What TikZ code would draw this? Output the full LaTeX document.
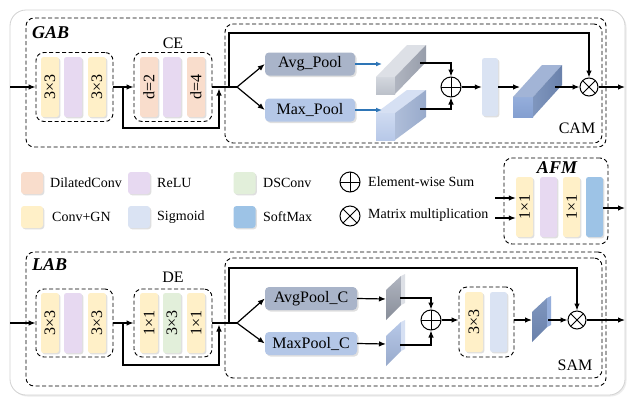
\documentclass[tikz,border=0pt]{standalone}
\usepackage{fontspec}
\setmainfont{Liberation Serif}
\usetikzlibrary{arrows.meta,shadows,calc}

\definecolor{yelc}{HTML}{FFF0C8}
\definecolor{purc}{HTML}{E7D9F1}
\definecolor{peac}{HTML}{F9DDCC}
\definecolor{grnc}{HTML}{E2EFDA}
\definecolor{sigc}{HTML}{DAE3F3}
\definecolor{sofc}{HTML}{9DC3E6}
\definecolor{avgc}{HTML}{A9B4C9}
\definecolor{maxc}{HTML}{B4C7E7}
\definecolor{arrblue}{HTML}{2E75B6}
% faces of the 3-D blocks
\definecolor{gfrontA}{HTML}{D3D7DE}
\definecolor{gfrontB}{HTML}{BCC1CA}
\definecolor{gtop}{HTML}{DDE0E6}
\definecolor{gsideA}{HTML}{B0B5C0}
\definecolor{gsideB}{HTML}{979DAA}
\definecolor{bfrontA}{HTML}{CFDBF1}
\definecolor{bfrontB}{HTML}{B7C8E8}
\definecolor{btop}{HTML}{D6E0F3}
\definecolor{bsideA}{HTML}{AFBED9}
\definecolor{bsideB}{HTML}{98AACB}
\definecolor{dfrontA}{HTML}{95AEDB}
\definecolor{dfrontB}{HTML}{849FD0}
\definecolor{dtop}{HTML}{A2B4D6}
\definecolor{dsideA}{HTML}{7F96BE}
\definecolor{dsideB}{HTML}{6A81AB}

% oblique box: x, y (front top-left), w, h, dx, dy, front, top, side
\newcommand\drawcuboid[9]{%
  \path[#7] (#1,#2) rectangle ++(#3,#4);
  \path[#8] (#1,#2) -- ++(#5,-#6) -- ++(#3,0) -- ++(-#5,#6) -- cycle;
  \path[#9] (#1+#3,#2) -- ++(#5,-#6) -- ++(0,#4) -- ++(-#5,#6) -- cycle;
}
% thin slanted slab: x, y (lower-left top corner), face style, edge style
\newcommand\drawslab[4]{%
  \path[#3] (#1,#2) -- ++(15,-14) -- ++(0,29) -- ++(-15,15) -- cycle;
  \path[#4] (#1+15,#2-14) -- ++(4,-2) -- ++(0,29) -- ++(-4,2) -- cycle;
}

\tikzset{
  dbox/.style={draw, dash pattern=on 4pt off 2.5pt, line width=0.9pt,
    rounded corners=8pt, inner sep=0pt},
  bar/.style={rounded corners=2.5pt, minimum width=18pt, minimum height=60pt,
    inner sep=0pt, font=\fontsize{16}{16}\selectfont,
    drop shadow={shadow xshift=1.3pt, shadow yshift=-1.3pt, opacity=0.25}},
  swatch/.style={rounded corners=3pt, minimum size=22pt, inner sep=0pt,
    drop shadow={shadow xshift=1.3pt, shadow yshift=-1.3pt, opacity=0.25}},
  pool/.style={rounded corners=4pt, minimum width=90pt, minimum height=23pt,
    inner sep=0pt, font=\fontsize{16}{16}\selectfont,
    drop shadow={shadow xshift=1.5pt, shadow yshift=-1.5pt, opacity=0.25}},
  lbl/.style={font=\fontsize{16}{16}\selectfont, inner sep=0pt},
  blk/.style={font=\fontsize{18}{18}\selectfont\bfseries\itshape, inner sep=0pt, anchor=west},
  leg/.style={font=\fontsize{14}{14}\selectfont, inner sep=0pt, anchor=west},
  ln/.style={line width=1.2pt},
  arr/.style={ln, -{Latex[length=7pt,width=5.5pt]}},
  barr/.style={line width=1.2pt, draw=arrblue, -{Latex[length=6pt,width=5pt]}},
  sumnode/.style={circle, draw, line width=1pt, minimum size=20pt, inner sep=0pt,
    path picture={\draw[line width=1pt]
      (path picture bounding box.north) -- (path picture bounding box.south)
      (path picture bounding box.west) -- (path picture bounding box.east);}},
  mulnode/.style={circle, draw, line width=1pt, minimum size=18pt, inner sep=0pt,
    path picture={\draw[line width=1pt]
      (path picture bounding box.north west) -- (path picture bounding box.south east)
      (path picture bounding box.north east) -- (path picture bounding box.south west);}},
}

\begin{document}
\begin{tikzpicture}[x=1pt,y=-1pt]
\fill[white] (0,0) rectangle (635,397);
\useasboundingbox (0,0) rectangle (635,397);

% outer frame
\node[draw=gray!35, fill=white, line width=0.8pt, rounded corners=16pt,
  minimum width=615pt, minimum height=385pt,
  drop shadow={shadow xshift=1.5pt, shadow yshift=-1.5pt, opacity=0.15}]
  (frame) at (317.5,202.5) {};

%================ GAB ================
\node[dbox, minimum width=580pt, minimum height=129pt] (gab) at (316,82.5) {};
\node[dbox, minimum width=377pt, minimum height=119pt] (cam) at (413.5,83.5) {};
\node[blk] (gabl) at (32,33) {GAB};
\node[lbl] (cel) at (173,43) {CE};
\node[lbl] (caml) at (577,128) {CAM};

\node[dbox, minimum width=77pt, minimum height=69pt] (g1) at (74.5,87) {};
\node[bar, fill=yelc] (g1a) at (50,87) {\rotatebox{90}{3×3}};
\node[bar, fill=purc] (g1b) at (73,87) {};
\node[bar, fill=yelc] (g1c) at (97,87) {\rotatebox{90}{3×3}};

\node[dbox, minimum width=78pt, minimum height=69pt] (ce) at (173,87) {};
\node[bar, fill=peac] (cea) at (149,87) {\rotatebox{90}{d=2}};
\node[bar, fill=purc] (ceb) at (172,87) {};
\node[bar, fill=peac] (cec) at (196,87) {\rotatebox{90}{d=4}};

\coordinate (gin) at (10,87);
\coordinate (gskip) at (123,87);
\coordinate (gjoin) at (219,88.5);
\coordinate (gtopc) at (229,87);
\coordinate (gsplit) at (237,87);

\draw[arr] (gin) -- (g1.west);
\draw[arr] (g1.east) -- (ce.west);
\draw[arr] (gskip) -- ++(0,41) -| (gjoin);
\draw[ln] (ce.east) -- (gsplit);

\node[pool, fill=avgc] (avg) at (310,64) {Avg\_Pool};
\node[pool, fill=maxc] (max) at (310,110) {Max\_Pool};
\draw[arr] (gsplit) -- (avg.west);
\draw[arr] (gsplit) -- (max.west);

% pooled descriptors
\drawcuboid{376}{77}{19}{17}{31}{32}{top color=gfrontA,bottom color=gfrontB}{fill=gtop}{left color=gsideA,right color=gsideB}
\drawcuboid{376}{113}{19}{27}{31}{23}{top color=bfrontA,bottom color=bfrontB}{fill=btop}{left color=bsideA,right color=bsideB}
\coordinate (cu1in) at (382,64);
\coordinate (cu1out) at (420,63);
\coordinate (cu2in) at (382,110);
\coordinate (cu2out) at (420,109);
\draw[barr] (avg.east) -- (cu1in);
\draw[barr] (max.east) -- (cu2in);

\node[sumnode] (gsum) at (451,87) {};
\draw[arr] (cu1out) -| (gsum.north);
\draw[arr] (cu2out) -| (gsum.south);

\node[bar, fill=sigc, minimum width=16pt, minimum height=58pt] (gsig) at (490,87) {};
\draw[arr] (gsum.east) -- (gsig.west);

\drawcuboid{513}{97}{20}{20}{29}{32}{top color=dfrontA,bottom color=dfrontB}{fill=dtop}{left color=dsideA,right color=dsideB}
\coordinate (cu3in) at (520,87);
\coordinate (cu3out) at (555,87);
\draw[arr] (gsig.east) -- (cu3in);

\node[mulnode] (gmul) at (589,87) {};
\draw[arr] (cu3out) -- (gmul.west);
\draw[arr] (gtopc) -- ++(0,-54) -| (gmul.north);
\coordinate (gout) at (625,87);
\draw[arr] (gmul.east) -- (gout);

%================ legend ================
\node[swatch, fill=peac] (sw1) at (32,183) {};
\node[leg] (lt1) at (50,183) {DilatedConv};
\node[swatch, fill=purc] (sw2) at (139,183) {};
\node[leg] (lt2) at (157,183) {ReLU};
\node[swatch, fill=grnc] (sw3) at (244.5,183) {};
\node[leg] (lt3) at (263,183) {DSConv};
\node[swatch, fill=yelc] (sw4) at (32,217) {};
\node[leg] (lt4) at (52,217) {Conv+GN};
\node[swatch, fill=sigc] (sw5) at (139,217) {};
\node[leg] (lt5) at (157,217) {Sigmoid};
\node[swatch, fill=sofc] (sw6) at (244.5,217) {};
\node[leg] (lt6) at (263,217) {SoftMax};
\node[sumnode] (lsum) at (350,182) {};
\node[leg] (lt7) at (368,182) {Element-wise Sum};
\node[mulnode, minimum size=20pt] (lmul) at (350,216) {};
\node[leg] (lt8) at (368,215) {Matrix multiplication};

%================ AFM ================
\node[dbox, minimum width=104pt, minimum height=86pt] (afm) at (556,201) {};
\node[font=\fontsize{18}{18}\selectfont\bfseries\itshape, inner sep=0pt] (afml) at (557,168) {AFM};
\node[bar, fill=yelc, minimum width=17pt] (fa) at (524.5,207) {\rotatebox{90}{1×1}};
\node[bar, fill=purc, minimum width=17pt] (fb) at (548.5,207) {};
\node[bar, fill=yelc, minimum width=17pt] (fc) at (571.5,207) {\rotatebox{90}{1×1}};
\node[bar, fill=sofc, minimum width=17pt] (fd) at (594.5,207) {};
\coordinate (fin1) at (495,198);
\coordinate (fin2) at (495,218);
\coordinate (fout) at (625,208);
\draw[arr] (fin1) -- (fin1 -| fa.west);
\draw[arr] (fin2) -- (fin2 -| fa.west);
\draw[arr] (fd.east |- fout) -- (fout);

%================ LAB ================
\node[dbox, minimum width=580pt, minimum height=134pt] (lab) at (316,319) {};
\node[dbox, minimum width=377pt, minimum height=120pt] (sam) at (413.5,318) {};
\node[blk] (labl) at (32,265) {LAB};
\node[lbl] (del) at (173,277) {DE};
\node[lbl] (saml) at (575,365) {SAM};

\node[dbox, minimum width=77pt, minimum height=68pt] (l1) at (74.5,323) {};
\node[bar, fill=yelc] (l1a) at (50,323) {\rotatebox{90}{3×3}};
\node[bar, fill=purc] (l1b) at (73,323) {};
\node[bar, fill=yelc] (l1c) at (97,323) {\rotatebox{90}{3×3}};

\node[dbox, minimum width=78pt, minimum height=68pt] (de) at (173,323) {};
\node[bar, fill=yelc] (dea) at (149,323) {\rotatebox{90}{1×1}};
\node[bar, fill=grnc] (deb) at (172,323) {\rotatebox{90}{3×3}};
\node[bar, fill=yelc] (dec) at (196,323) {\rotatebox{90}{1×1}};

\coordinate (lin) at (10,323);
\coordinate (lskip) at (123,323);
\coordinate (ljoin) at (219,324.5);
\coordinate (ltopc) at (229,323);
\coordinate (lsplit) at (237,323);

\draw[arr] (lin) -- (l1.west);
\draw[arr] (l1.east) -- (de.west);
\draw[arr] (lskip) -- ++(0,42) -| (ljoin);
\draw[ln] (de.east) -- (lsplit);

\node[pool, fill=avgc, minimum width=92pt] (savg) at (311,298.5) {AvgPool\_C};
\node[pool, fill=maxc, minimum width=92pt] (smax) at (311,343.5) {MaxPool\_C};
\draw[arr] (lsplit) -- (savg.west);
\draw[arr] (lsplit) -- (smax.west);

% pooled maps
\drawslab{386}{290}{top color=gsideA,bottom color=gsideB!90!black}{fill=gtop}
\drawslab{386}{336}{top color=bfrontB,bottom color=bsideB}{fill=btop}
\coordinate (sl1in) at (386,299);
\coordinate (sl1out) at (400,298);
\coordinate (sl2in) at (386,344);
\coordinate (sl2out) at (400,345);
\draw[arr] (savg.east) -- (sl1in);
\draw[arr] (smax.east) -- (sl2in);

\node[sumnode] (ssum) at (431,320) {};
\draw[arr] (sl1out) -| (ssum.north);
\draw[arr] (sl2out) -| (ssum.south);

\node[dbox, minimum width=55pt, minimum height=70pt] (sconv) at (486.5,322) {};
\node[bar, fill=yelc] (sca) at (474,322) {\rotatebox{90}{3×3}};
\node[bar, fill=sigc, minimum width=17pt] (scb) at (498.5,322) {};
\draw[arr] (ssum.east) -- (ssum.east -| sconv.west);

\drawslab{532}{312}{top color=dsideA,bottom color=dsideB}{fill=dfrontA}
\coordinate (sl3in) at (532,320);
\coordinate (sl3out) at (548,320);
\draw[arr] (sconv.east |- sl3in) -- (sl3in);

\node[mulnode] (smul) at (577,320) {};
\draw[arr] (sl3out) -- (smul.west);
\draw[arr] (ltopc) -- ++(0,-55) -| (smul.north);
\coordinate (sout) at (625,320);
\draw[arr] (smul.east) -- (sout);
\end{tikzpicture}
\end{document}
